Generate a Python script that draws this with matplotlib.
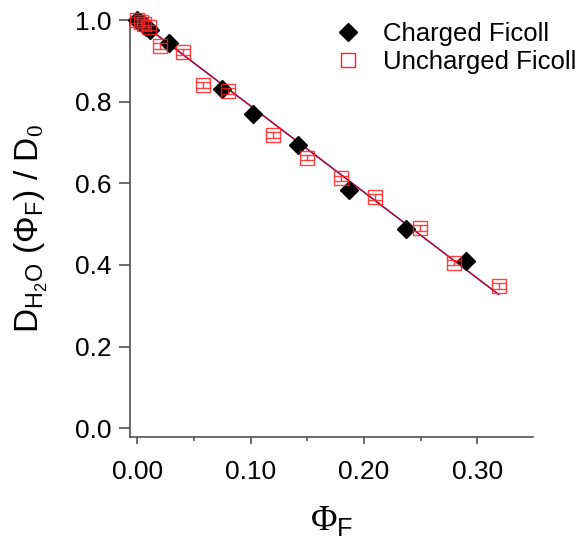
import numpy as np
import matplotlib
matplotlib.use('Agg')
import matplotlib.pyplot as plt
from matplotlib.ticker import MultipleLocator, FormatStrFormatter
from matplotlib.lines import Line2D

plt.rcParams['font.family'] = 'Liberation Sans'
plt.rcParams['mathtext.fontset'] = 'custom'
plt.rcParams['mathtext.rm'] = 'Liberation Serif'
plt.rcParams['mathtext.sf'] = 'Liberation Sans'
plt.rcParams['mathtext.it'] = 'Liberation Sans:italic'

# Charged Ficoll (diamonds)
phi_charged = [0.0, 0.002, 0.005, 0.008, 0.011, 0.028, 0.0745, 0.102, 0.142, 0.187, 0.237, 0.290]
d_charged = [1.0, 0.996, 0.990, 0.984, 0.976, 0.943, 0.831, 0.770, 0.694, 0.584, 0.488, 0.410]

# Uncharged Ficoll (open squares with error bars)
phi_unch = [0.0, 0.003, 0.006, 0.010, 0.020, 0.040, 0.0577, 0.080, 0.120, 0.1495,
            0.1795, 0.2098, 0.2495, 0.2795, 0.319]
d_unch = [1.0, 0.995, 0.990, 0.982, 0.936, 0.922, 0.840, 0.827, 0.718, 0.663,
          0.612, 0.567, 0.490, 0.406, 0.348]
err_unch = [0.007] * len(phi_unch)

# linear fit line
fit_x = [0.0, 0.3186]
fit_y = [1.0, 0.328]

fig = plt.figure(figsize=(5.81, 5.38), dpi=100)
ax = fig.add_axes([0.2238, 0.1883, 0.6936, 0.7745])

ax.plot(fit_x, fit_y, color='#9c0a45', lw=1.2, zorder=2)
ax.errorbar(phi_unch, d_unch, yerr=err_unch, fmt='s', ms=9.5, mfc='none',
            mec='#ff2020', mew=1.0, ecolor='#ff2020', elinewidth=1.0,
            capsize=5, capthick=1.0, alpha=0.85, zorder=4, clip_on=False)
ax.plot(phi_charged, d_charged, 'D', ms=9.5, color='black', zorder=3, clip_on=False)

ax.set_xlim(-0.0065, 0.349)
ax.set_ylim(-0.0206, 1.0)

ax.xaxis.set_major_locator(MultipleLocator(0.1))
ax.xaxis.set_minor_locator(MultipleLocator(0.05))
ax.xaxis.set_major_formatter(FormatStrFormatter('%.2f'))
ax.yaxis.set_major_locator(MultipleLocator(0.2))
ax.yaxis.set_major_formatter(FormatStrFormatter('%.1f'))

for s in ['top', 'right']:
    ax.spines[s].set_visible(False)
for s in ['left', 'bottom']:
    ax.spines[s].set_color('#444444')
    ax.spines[s].set_linewidth(1.1)

ax.tick_params(axis='x', which='major', length=5, width=1.1, color='#444444',
               labelsize=19, pad=12)
ax.tick_params(axis='x', which='minor', length=3, width=1.1, color='#444444')
ax.tick_params(axis='y', which='major', length=8, width=1.1, color='#444444',
               labelsize=19, pad=5)

ax.set_xlabel(r'$\Phi_{\mathsf{F}}$', fontsize=26, va='center')
ax.xaxis.set_label_coords(0.5, -0.2)
ax.set_ylabel(r'D$_{\mathsf{H_2O}}$ ($\mathsf{\Phi_F}$) / D$_0$', fontsize=24, va='center')
ax.yaxis.set_label_coords(-0.245, 0.5)

h_ch = Line2D([], [], ls='none', marker='D', ms=9.5, color='black')
h_un = Line2D([], [], ls='none', marker='s', ms=9.5, mfc='none', mec='#ff2020', mew=1.0)
fig.legend([h_ch, h_un], ['Charged Ficoll', 'Uncharged Ficoll'], loc='upper left',
           bbox_to_anchor=(329 / 581, 1 - 22 / 538), frameon=False, fontsize=18.5,
           handlelength=1.5, handletextpad=0.6, labelspacing=0.15,
           borderpad=0, borderaxespad=0)

fig.savefig('out.png', dpi=100)
